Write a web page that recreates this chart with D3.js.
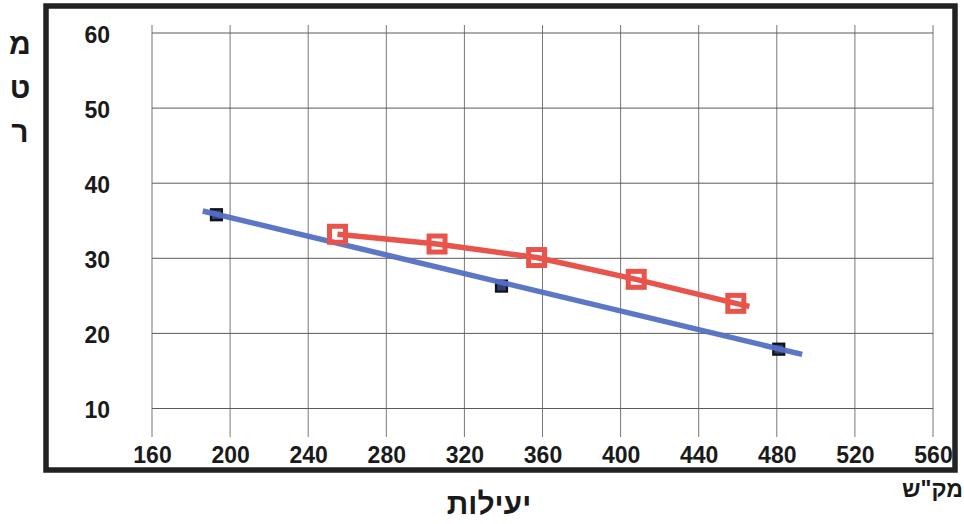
<!DOCTYPE html>
<html>
<head>
<meta charset="utf-8">
<script src="https://cdn.jsdelivr.net/npm/d3@7"></script>
<style>
  html, body { margin: 0; padding: 0; background: #fff; }
  svg { display: block; }
  text { font-family: "Liberation Sans", Arial, sans-serif; font-weight: bold; fill: #1a1a1a; }
</style>
</head>
<body>
<svg id="chart" width="964" height="524"></svg>
<script>
// ---- data ----
const xTicks = [160, 200, 240, 280, 320, 360, 400, 440, 480, 520, 560];
const yTicks = [10, 20, 30, 40, 50, 60];

// blue series (black square markers) measured points
const blueX = [193, 339, 481];
const blueY = [35.8, 26.3, 17.9];
// blue straight (trend) line end points as drawn
const trendX = [186, 493];
const trendY = [36.3, 17.2];

// red series (hollow red squares)
const redX = [255, 306, 357, 408, 459];
const redY = [33.2, 31.9, 30.1, 27.2, 24.0];
// red line as drawn (runs slightly past the last marker)
const redLineX = [255, 306, 357, 408, 459, 466];
const redLineY = [33.2, 31.9, 30.1, 27.2, 24.0, 23.6];

const yTitleLetters = ["מ", "ט", "ר"];
const xTitle = "יעילות";
const xUnit = "מק\"ש";

// ---- layout ----
const svg = d3.select("#chart");
const x = d3.scaleLinear().domain([160, 560]).range([152, 933]);
const y = d3.scaleLinear().domain([10, 60]).range([408.5, 33]);
const gridTop = 25, gridBottom = 437;

const blue = "#5470c4";
const red = "#e8544b";
const font = "'Liberation Sans', Arial, sans-serif";

// frame
svg.append("rect")
  .attr("x", 46).attr("y", 6)
  .attr("width", 909).attr("height", 464)
  .attr("fill", "none").attr("stroke", "#222").attr("stroke-width", 5.5);

// grid
const grid = svg.append("g");
grid.selectAll("line.v").data(xTicks).join("line")
  .attr("class", "v")
  .attr("x1", d => x(d)).attr("x2", d => x(d))
  .attr("y1", gridTop).attr("y2", gridBottom)
  .attr("stroke", "#777").attr("stroke-width", 1);
grid.selectAll("line.h").data(yTicks).join("line")
  .attr("class", "h")
  .attr("x1", x(160)).attr("x2", x(560))
  .attr("y1", d => y(d)).attr("y2", d => y(d))
  .attr("stroke", "#5a5a5a").attr("stroke-width", 1);

// tick labels via axes (domain/ticks hidden)
const xAxis = d3.axisBottom(x).tickValues(xTicks).tickSize(0).tickPadding(0);
const gx = svg.append("g").attr("transform", "translate(0,447)").call(xAxis);
gx.select(".domain").remove();
gx.selectAll("text").attr("font-size", 23).attr("dy", "0.71em").attr("fill", "#1a1a1a")
  .style("font-family", font).style("font-weight", "bold");

const yAxis = d3.axisLeft(y).tickValues(yTicks).tickSize(0).tickPadding(0);
const gy = svg.append("g").attr("transform", "translate(110,2)").call(yAxis);
gy.select(".domain").remove();
gy.selectAll("text").attr("font-size", 23).attr("fill", "#1a1a1a")
  .style("font-family", font).style("font-weight", "bold");

// blue markers + trend line
svg.selectAll("rect.bm").data(blueX).join("rect")
  .attr("class", "bm")
  .attr("x", (d) => x(d) - 5.5)
  .attr("y", (d, i) => y(blueY[i]) - 5.5)
  .attr("width", 11).attr("height", 11)
  .attr("fill", "#2f3e7a").attr("stroke", "#111").attr("stroke-width", 2.2);

const line = d3.line().x(d => x(d[0])).y(d => y(d[1]));
svg.append("path")
  .datum(trendX.map((v, i) => [v, trendY[i]]))
  .attr("d", line)
  .attr("fill", "none").attr("stroke", blue).attr("stroke-width", 5.5)
  .attr("stroke-opacity", 0.95);

// red line + markers
svg.append("path")
  .datum(redLineX.map((v, i) => [v, redLineY[i]]))
  .attr("d", line)
  .attr("fill", "none").attr("stroke", red).attr("stroke-width", 5.5)
  .attr("stroke-linejoin", "round");
svg.selectAll("rect.rm").data(redX).join("rect")
  .attr("class", "rm")
  .attr("x", d => x(d) - 8)
  .attr("y", (d, i) => y(redY[i]) - 8)
  .attr("width", 16).attr("height", 16)
  .attr("fill", "none").attr("stroke", red).attr("stroke-width", 5);

// y title (stacked letters)
svg.selectAll("text.yt").data(yTitleLetters).join("text")
  .attr("class", "yt")
  .attr("x", 20).attr("y", (d, i) => 54 + i * 44)
  .attr("text-anchor", "middle")
  .attr("font-size", 30)
  .text(d => d);

// x title
svg.append("text")
  .attr("x", 489).attr("y", 514)
  .attr("text-anchor", "middle")
  .attr("font-size", 30)
  .text(xTitle);

// unit
svg.append("text")
  .attr("x", 963).attr("y", 497)
  .attr("text-anchor", "end")
  .attr("font-size", 23)
  .text(xUnit);
</script>
</body>
</html>
